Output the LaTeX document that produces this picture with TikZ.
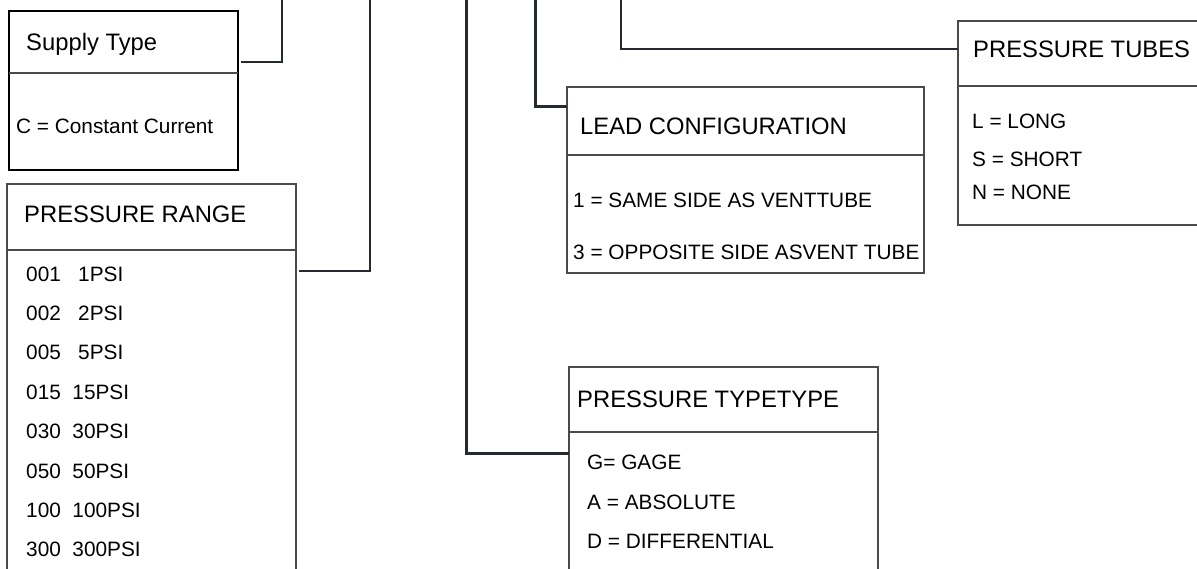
\documentclass[tikz,border=0pt]{standalone}
\usepackage{fontspec}
\setmainfont{Liberation Sans}
\usetikzlibrary{positioning}
\definecolor{linkgray}{HTML}{252A31}
\definecolor{framegray}{HTML}{4A4A4A}
\tikzset{
    code/.style={
        frame/.append style={draw=framegray,line width=1.1pt,inner sep=0pt,outer sep=0pt,anchor=north west},
        heavy/.append style={draw=black,line width=2.6pt},
        rule/.append style={draw=framegray,line width=1.6pt},
        head/.append style={anchor=base west,inner sep=0pt,font=\fontsize{23.8}{28}\selectfont},
        item/.append style={anchor=base west,inner sep=0pt,font=\fontsize{20.8}{25}\selectfont},
        link/.append style={draw=linkgray,line width=2pt},
        bold/.append style={line width=3pt}
    }
}

\begin{document}
\begin{tikzpicture}[code,x=1pt,y=-1pt]
    \useasboundingbox (0,0) rectangle (1197,568);
    \clip (0,0) rectangle (1197,568);

    \node[frame,heavy,minimum width=229,minimum height=159] (sup) at (9,11) {};
    \draw[rule,line width=2.2pt] (sup.west |- 0,73) -- (sup.east |- 0,73);
    \node[head] (sup-h) at (26,50) {Supply Type};
    \node[item] (sup-c) at (16,133) {C = Constant Current};

    \node[frame,minimum width=289,minimum height=420] (rng) at (7,184) {};
    \draw[rule] (rng.west |- 0,250) -- (rng.east |- 0,250);
    \node[head] (rng-h) at (24,222) {PRESSURE RANGE};
    \foreach \t [count=\i from 0] in {001~~~1PSI,002~~~2PSI,005~~~5PSI,015~~15PSI,030~~30PSI,050~~50PSI,100~~100PSI,300~~300PSI}
        \node[item] (rng-\i) at (26,281+39.4*\i) {\t};

    \node[frame,minimum width=357,minimum height=186] (lead) at (567,87) {};
    \draw[rule] (lead.west |- 0,155) -- (lead.east |- 0,155);
    \node[head] (lead-h) at (580,134) {LEAD CONFIGURATION};
    \node[item] (lead-1) at (573,207) {1 = SAME SIDE AS VENTTUBE};
    \node[item] (lead-3) at (573,259) {3 = OPPOSITE SIDE ASVENT TUBE};

    \node[frame,minimum width=300,minimum height=204] (tub) at (958,21) {};
    \draw[rule] (tub.west |- 0,86) -- (tub.east |- 0,86);
    \node[head] (tub-h) at (973,57) {PRESSURE TUBES};
    \node[item] (tub-l) at (972,128) {L = LONG};
    \node[item] (tub-s) at (972,166) {S = SHORT};
    \node[item] (tub-n) at (972,199) {N = NONE};

    \node[frame,minimum width=309,minimum height=260] (typ) at (569,367) {};
    \draw[rule] (typ.west |- 0,432) -- (typ.east |- 0,432);
    \node[head] (typ-h) at (577,407) {PRESSURE TYPETYPE};
    \node[item] (typ-g) at (587,469) {G= GAGE};
    \node[item] (typ-a) at (587,509) {A = ABSOLUTE};
    \node[item] (typ-d) at (587,548) {D = DIFFERENTIAL};

    \coordinate (sup-top) at (282,0);
    \coordinate (rng-top) at (370,0);
    \coordinate (typ-top) at (466,0);
    \coordinate (lead-top) at (535,0);
    \coordinate (tub-top) at (621,0);

    \draw[link] ([shift={(3,51)}]sup.north east) -| (sup-top);
    \draw[link] ([shift={(3,87)}]rng.north east) -| (rng-top);
    \draw[link,bold] ([shift={(0,19)}]lead.north west) -| (lead-top);
    \draw[link] ([shift={(0,28)}]tub.north west) -| (tub-top);
    \draw[link,bold] ([shift={(0,86)}]typ.north west) -| (typ-top);
\end{tikzpicture}
\end{document}
